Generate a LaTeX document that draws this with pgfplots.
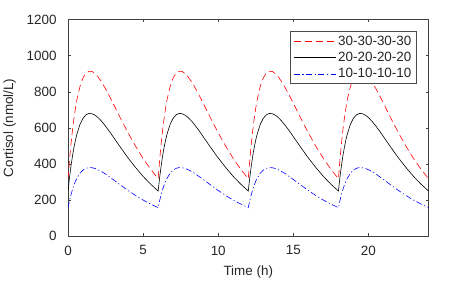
\documentclass[border=0pt]{standalone}
\usepackage{pgfplots}
\pgfplotsset{compat=1.18}
\usepackage{pgfplotstable}
\usepackage{fontspec}
\setmainfont{Liberation Sans}

\pgfplotstableread{
t red black blue
0 318 250 158
0.1 422 325 197
0.2 512 390 230
0.3 589 446 259
0.4 655 493 284
0.5 711 534 305
0.6 759 568 322
0.8 830 620 349
1 877 653 366
1.2 903 672 376
1.4 913 680 380
1.6 912 678 379
1.8 900 670 375
2 882 657 368
2.25 852 635 357
2.5 816 609 344
2.75 777 581 329
3 736 551 314
3.5 652 491 283
4 572 433 253
4.5 498 380 225
5 430 331 200
5.5 371 288 178
6 318 250 158
6.1 422 325 197
6.2 512 390 230
6.3 589 446 259
6.4 655 493 284
6.5 711 534 305
6.6 759 568 322
6.8 830 620 349
7 877 653 366
7.2 903 672 376
7.4 913 680 380
7.6 912 678 379
7.8 900 670 375
8 882 657 368
8.25 852 635 357
8.5 816 609 344
8.75 777 581 329
9 736 551 314
9.5 652 491 283
10 572 433 253
10.5 498 380 225
11 430 331 200
11.5 371 288 178
12 318 250 158
12.1 422 325 197
12.2 512 390 230
12.3 589 446 259
12.4 655 493 284
12.5 711 534 305
12.6 759 568 322
12.8 830 620 349
13 877 653 366
13.2 903 672 376
13.4 913 680 380
13.6 912 678 379
13.8 900 670 375
14 882 657 368
14.25 852 635 357
14.5 816 609 344
14.75 777 581 329
15 736 551 314
15.5 652 491 283
16 572 433 253
16.5 498 380 225
17 430 331 200
17.5 371 288 178
18 318 250 158
18.1 422 325 197
18.2 512 390 230
18.3 589 446 259
18.4 655 493 284
18.5 711 534 305
18.6 759 568 322
18.8 830 620 349
19 877 653 366
19.2 903 672 376
19.4 913 680 380
19.6 912 678 379
19.8 900 670 375
20 882 657 368
20.25 852 635 357
20.5 816 609 344
20.75 777 581 329
21 736 551 314
21.5 652 491 283
22 572 433 253
22.5 498 380 225
23 430 331 200
23.5 371 288 178
24 318 250 158
}\data

\begin{document}
\begin{tikzpicture}
\begin{axis}[
  name=ax, at={(0,0)}, anchor=south west,
  width=361bp, height=217bp, scale only axis,
  xmin=0, xmax=24, ymin=0, ymax=1200,
  xtick={0,5,10,15,20}, ytick={0,200,...,1200},
  tick align=inside, major tick length=3bp,
  axis line style={black!75}, tick style={black!75, line width=0.4pt},
  every tick label/.append style={font=\fontsize{13.5}{16}\selectfont, text=black!85},
  yticklabel style={xshift=-8bp, /pgf/number format/1000 sep={}},
  xticklabel style={yshift=-6bp},
  /pgf/number format/assume math mode=true,
  scaled y ticks=false,
  xlabel={Time (h)}, ylabel={Cortisol (nmol/L)},
  label style={font=\fontsize{13.5}{16}\selectfont, text=black!85},
  x label style={at={(axis description cs:0.5,-0.118)}, anchor=north},
  y label style={at={(axis description cs:-0.135,0.5)}, anchor=south},
  legend style={at={(1,1)}, xshift=-12bp, yshift=-12bp, anchor=north east,
    draw=black!70, font=\fontsize{13.5}{16}\selectfont, inner xsep=3bp, inner ysep=2bp,
    nodes={inner sep=2bp}, row sep=1.5bp, text=black!85},
  legend cell align=left,
  legend image code/.code={\draw[#1] (0bp,0bp) -- (42bp,0bp);},
]
\addplot[red, line width=0.6pt, dash pattern=on 7bp off 4bp] table[x=t, y=red] {\data};
\addlegendentry{30-30-30-30\hspace{10bp}}
\addplot[black, line width=0.6pt] table[x=t, y=black] {\data};
\addlegendentry{20-20-20-20\hspace{10bp}}
\addplot[blue, line width=0.6pt, dash pattern=on 6bp off 2.5bp on 1.2bp off 2.5bp] table[x=t, y=blue] {\data};
\addlegendentry{10-10-10-10\hspace{10bp}}
\end{axis}
\path (ax.south west) ++(-67.5bp,-47.5bp) rectangle ++(472bp,284bp);
\end{tikzpicture}
\end{document}
